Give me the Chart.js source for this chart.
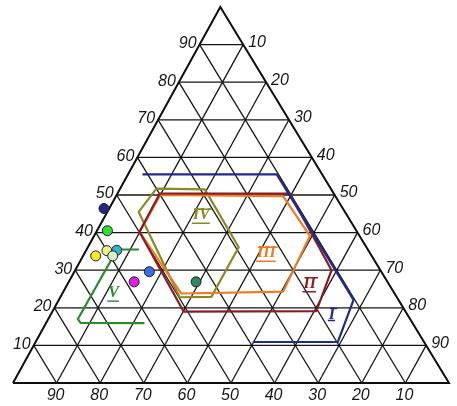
<!DOCTYPE html>
<html>
<head>
<meta charset="utf-8">
<style>
  html, body { margin: 0; padding: 0; background: #ffffff; }
  #wrap { width: 457px; height: 406px; position: relative; }
</style>
<script src="https://cdn.jsdelivr.net/npm/chart.js@4/dist/chart.umd.min.js"></script>
</head>
<body>
<div id="wrap"><canvas id="c"></canvas></div>
<script>
// Ternary grid: percentages along each side
const gridTicks = [10, 20, 30, 40, 50, 60, 70, 80, 90];
const leftTickLabels = ['10', '20', '30', '40', '50', '60', '70', '80', '90'];      // apex component
const rightTickLabels = ['90', '80', '70', '60', '50', '40', '30', '20', '10'];     // at apex share 10..90
const bottomTickLabels = ['90', '80', '70', '60', '50', '40', '30', '20', '10'];    // left to right

// Sample points: apex share (top) and lower-right share (right), in %
const sampleTop   = [46.4, 40.5, 33.8, 35.2, 35.3, 33.8, 29.6, 26.9, 26.9];
const sampleRight = [-1.2,  2.4,  2.9,  4.8,  7.0,  6.8, 17.2, 15.0, 29.2];
const sampleColor = ['#1d2a7e', '#2fe02a', '#f4ee1e', '#f4f07e', '#2cb6c6', '#d8f0c8', '#3a6de4', '#e020e0', '#2e8a5c'];

// Field outlines as [top, right] pairs
const fieldI   = [[55.5, 3.3], [55.5, 34.1], [22.1, 67.6], [10.9, 69.3], [10.9, 49.8]];
const fieldII  = [[50.4, 9.7], [50.4, 39.5], [30.0, 58.8], [19.1, 60.5], [19.0, 30.1], [40.2, 9.9], [50.4, 9.7]];
const fieldIII = [[50.0, 10.0], [49.7, 38.3], [39.1, 49.5], [24.3, 50.4], [23.8, 27.3], [40.2, 9.9], [50.0, 10.0]];
const fieldIV  = [[51.7, 8.3], [51.5, 19.5], [36.1, 34.6], [22.9, 34.6], [22.8, 27.4], [45.5, 7.2], [51.7, 8.3]];
const fieldV   = [[35.5, 12.0], [35.5, 7.0], [17.0, 6.8], [16.0, 7.9], [15.9, 22.6]];

const fieldNames = ['I', 'II', 'III', 'IV', 'V'];
const fieldColors = ['#1f2a8c', '#8a1c22', '#f07a22', '#8a8a22', '#2a8a2e'];
const fieldLabelTop   = [18.2, 26.4, 34.5, 44.6, 23.9];
const fieldLabelRight = [64.5, 55.5, 41.7, 22.0, 11.7];

// The printed triangle leans slightly: apex sits a bit left of the base midpoint
const APEX_SHIFT = 0.4755;
function tern(top, right) {
  return { x: right + APEX_SHIFT * top, y: top };
}

const datasets = [];

// sample points on top
datasets.push({
  data: sampleTop.map((t, i) => tern(t, sampleRight[i])),
  showLine: false,
  pointRadius: 5,
  pointHoverRadius: 5,
  pointBackgroundColor: sampleColor,
  pointBorderColor: '#1b1b3a',
  pointBorderWidth: 1,
  order: 0,
  clip: false
});

// field outlines
[fieldI, fieldII, fieldIII, fieldIV, fieldV].forEach((f, i) => {
  datasets.push({
    data: f.map(p => tern(p[0], p[1])),
    showLine: true,
    pointRadius: 0,
    borderColor: fieldColors[i],
    borderWidth: 2.2,
    borderJoinStyle: 'round',
    tension: 0,
    order: 1,
    clip: false
  });
});

// grid lines
function gridLine(a, b, w) {
  datasets.push({
    data: [a, b],
    showLine: true,
    pointRadius: 0,
    borderColor: '#141414',
    borderWidth: w,
    order: 2,
    clip: false
  });
}
gridTicks.forEach(v => {
  gridLine(tern(v, 0), tern(v, 100 - v), 1.3);          // constant apex share
  gridLine(tern(0, v), tern(100 - v, v), 1.3);          // constant right share
  gridLine(tern(0, 100 - v), tern(100 - v, 0), 1.3);    // constant left share
});
datasets.push({
  data: [tern(0, 0), tern(0, 100), tern(100, 0), tern(0, 0)],
  showLine: true,
  pointRadius: 0,
  borderColor: '#0e0e0e',
  borderWidth: 2,
  borderJoinStyle: 'miter',
  order: 2,
  clip: false
});

const labelFont = 'italic 16px "Liberation Sans Narrow", "Liberation Sans", Arial, sans-serif';

const ternaryLabels = {
  id: 'ternaryLabels',
  afterDatasetsDraw(chart) {
    const ctx = chart.ctx;
    const xs = chart.scales.x, ys = chart.scales.y;
    const px = p => [xs.getPixelForValue(p.x), ys.getPixelForValue(p.y)];
    ctx.save();
    ctx.fillStyle = '#161616';
    ctx.font = labelFont;
    ctx.textBaseline = 'middle';

    gridTicks.forEach((v, i) => {
      // left side
      let [x, y] = px(tern(v, 0));
      ctx.textAlign = 'right';
      ctx.fillText(leftTickLabels[i], x - 3, y - 1);
      // right side
      [x, y] = px(tern(v, 100 - v));
      ctx.textAlign = 'left';
      ctx.fillText(rightTickLabels[i], x + 5, y - 2);
      // bottom
      [x, y] = px(tern(0, v));
      ctx.textAlign = 'center';
      ctx.fillText(bottomTickLabels[i], x - 1, y + 13);
    });

    // field names, roman numerals with top and bottom bars
    ctx.font = 'italic bold 16px "Liberation Serif", "DejaVu Serif", serif';
    fieldNames.forEach((n, i) => {
      const [x, y] = px(tern(fieldLabelTop[i], fieldLabelRight[i]));
      ctx.fillStyle = fieldColors[i];
      ctx.strokeStyle = fieldColors[i];
      ctx.textAlign = 'center';
      ctx.fillText(n, x, y);
      const w = ctx.measureText(n).width;
      ctx.lineWidth = 1.4;
      ctx.beginPath();
      if (n !== 'V') {
        ctx.moveTo(x - w / 2 + 1, y - 6);
        ctx.lineTo(x + w / 2 + 2, y - 6);
      }
      ctx.moveTo(x - w / 2 - 1, y + (n.length > 1 || n === 'V' ? 8 : 6));
      ctx.lineTo(x + w / 2, y + (n.length > 1 || n === 'V' ? 8 : 6));
      ctx.stroke();
    });
    ctx.restore();
  }
};

new Chart(document.getElementById('c'), {
  type: 'scatter',
  data: { datasets },
  options: {
    responsive: true,
    maintainAspectRatio: false,
    animation: false,
    events: [],
    layout: { padding: { left: 13, right: 8, top: 7, bottom: 23 } },
    plugins: { legend: { display: false }, tooltip: { enabled: false } },
    scales: {
      x: { type: 'linear', min: 0, max: 100, display: false },
      y: { type: 'linear', min: 0, max: 100, display: false }
    }
  },
  plugins: [ternaryLabels]
});
</script>
</body>
</html>
